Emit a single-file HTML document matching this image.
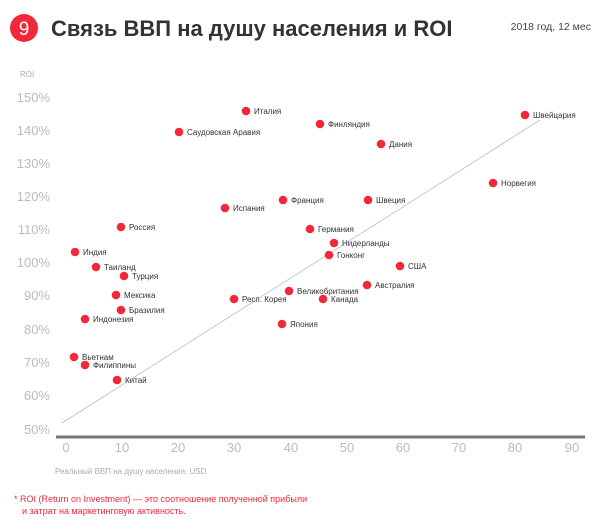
<!DOCTYPE html>
<html><head><meta charset="utf-8"><style>
body{margin:0;background:#fff;width:600px;height:524px;overflow:hidden;font-family:"Liberation Sans",sans-serif}
</style></head><body>
<svg width="600" height="524" xmlns="http://www.w3.org/2000/svg" font-family="Liberation Sans, sans-serif">
<circle cx="24" cy="28" r="14" fill="#f2283a"/>
<text x="24" y="35" font-size="19" fill="#fff" text-anchor="middle">9</text>
<text x="51" y="36" font-size="22" font-weight="bold" fill="#333">Связь ВВП на душу населения и ROI</text>
<text x="591" y="30" font-size="10.5" fill="#444" text-anchor="end">2018 год, 12 мес</text>
<text x="20" y="77" font-size="8" fill="#aaa">ROI</text>
<g font-size="13" fill="#bbb" text-anchor="end">
<text x="50" y="102">150%</text><text x="50" y="135">140%</text><text x="50" y="168">130%</text>
<text x="50" y="201">120%</text><text x="50" y="234">110%</text><text x="50" y="267">100%</text>
<text x="50" y="300">90%</text><text x="50" y="334">80%</text><text x="50" y="367">70%</text>
<text x="50" y="400">60%</text><text x="50" y="434">50%</text>
</g>
<line x1="56" y1="437" x2="585" y2="437" stroke="#777" stroke-width="3"/>
<g font-size="13" fill="#bbb" text-anchor="middle">
<text x="66" y="452">0</text><text x="122" y="452">10</text><text x="178" y="452">20</text>
<text x="234" y="452">30</text><text x="291" y="452">40</text><text x="347" y="452">50</text>
<text x="403" y="452">60</text><text x="459" y="452">70</text><text x="515" y="452">80</text><text x="572" y="452">90</text>
</g>
<text x="55" y="474" font-size="8" fill="#aaa">Реальный ВВП на душу населения, USD</text>
<text x="14" y="502" font-size="9" fill="#f2283a">* ROI (Return on Investment) — это соотношение полученной прибыли</text>
<text x="22" y="514" font-size="9" fill="#f2283a">и затрат на маркетинговую активность.</text>
<line x1="62" y1="423" x2="540" y2="120" stroke="#bbb" stroke-width="0.8"/>
<g fill="#f2283a">
<circle cx="246" cy="111" r="4.3"/><circle cx="525" cy="115" r="4.3"/><circle cx="320" cy="124" r="4.3"/>
<circle cx="179" cy="132" r="4.3"/><circle cx="381" cy="144" r="4.3"/><circle cx="493" cy="183" r="4.3"/>
<circle cx="283" cy="200" r="4.3"/><circle cx="368" cy="200" r="4.3"/><circle cx="225" cy="208" r="4.3"/>
<circle cx="121" cy="227" r="4.3"/><circle cx="310" cy="229" r="4.3"/><circle cx="334" cy="243" r="4.3"/>
<circle cx="75" cy="252" r="4.3"/><circle cx="329" cy="255" r="4.3"/><circle cx="96" cy="267" r="4.3"/>
<circle cx="400" cy="266" r="4.3"/><circle cx="124" cy="276" r="4.3"/><circle cx="367" cy="285" r="4.3"/>
<circle cx="116" cy="295" r="4.3"/><circle cx="289" cy="291" r="4.3"/><circle cx="234" cy="299" r="4.3"/>
<circle cx="323" cy="299" r="4.3"/><circle cx="121" cy="310" r="4.3"/><circle cx="85" cy="319" r="4.3"/>
<circle cx="282" cy="324" r="4.3"/><circle cx="74" cy="357" r="4.3"/><circle cx="85" cy="365" r="4.3"/>
<circle cx="117" cy="380" r="4.3"/>
</g>
<g font-size="8" fill="#333">
<text x="254" y="114">Италия</text><text x="533" y="118">Швейцария</text><text x="328" y="127">Финляндия</text>
<text x="187" y="135">Саудовская Аравия</text><text x="389" y="147">Дания</text><text x="501" y="186">Норвегия</text>
<text x="291" y="203">Франция</text><text x="376" y="203">Швеция</text><text x="233" y="211">Испания</text>
<text x="129" y="230">Россия</text><text x="318" y="232">Германия</text><text x="342" y="246">Нидерланды</text>
<text x="83" y="255">Индия</text><text x="337" y="258">Гонконг</text><text x="104" y="270">Таиланд</text>
<text x="408" y="269">США</text><text x="132" y="279">Турция</text><text x="375" y="288">Австралия</text>
<text x="124" y="298">Мексика</text><text x="297" y="294">Великобритания</text><text x="242" y="302">Респ. Корея</text>
<text x="331" y="302">Канада</text><text x="129" y="313">Бразилия</text><text x="93" y="322">Индонезия</text>
<text x="290" y="327">Япония</text><text x="82" y="360">Вьетнам</text><text x="93" y="368">Филиппины</text>
<text x="125" y="383">Китай</text>
</g>
</svg>
</body></html>
